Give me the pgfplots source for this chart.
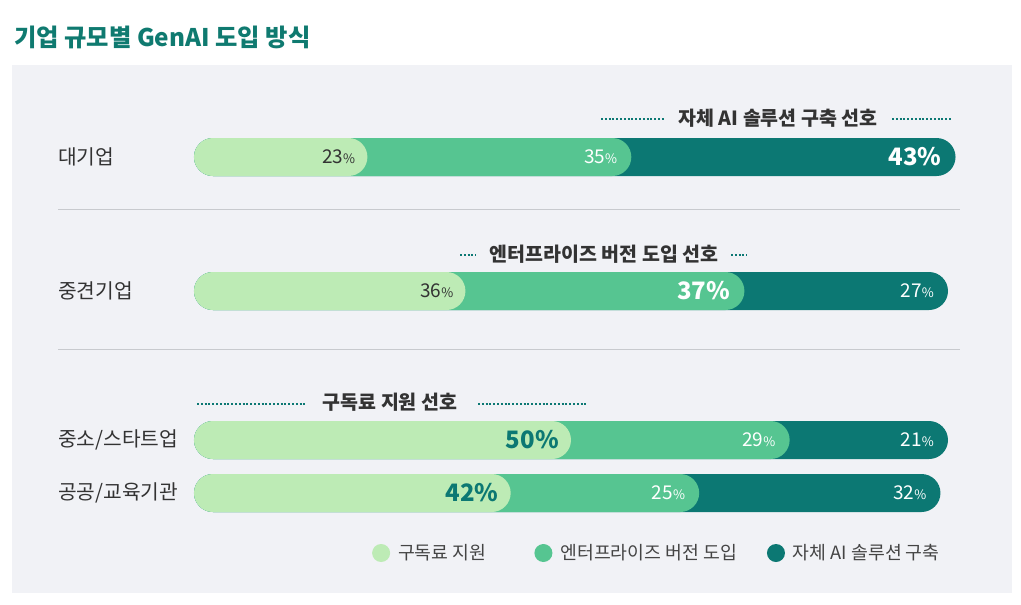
\documentclass[border=0pt]{standalone}
\usepackage{fontspec}
\setmainfont{Noto Sans CJK KR}
\usepackage{pgfplots}
\usepackage{pgfplotstable}
\pgfplotsset{compat=1.18}
\definecolor{cL}{HTML}{BDEBB5}
\definecolor{cM}{HTML}{56C591}
\definecolor{cD}{HTML}{0C7873}
\definecolor{ttl}{HTML}{0F7A70}
\definecolor{panel}{HTML}{F1F2F6}
\definecolor{txt}{HTML}{333333}
\definecolor{lgt}{HTML}{444444}
\definecolor{sepc}{HTML}{C8CACE}

\pgfplotstableread{
y a b c ba bb bc
157 23 35 43 0 0 1
291 36 37 27 0 1 0
440 50 29 21 1 0 0
493 42 25 32 1 0 0
}\data

\newcommand{\Lbl}[3]{%
  \ifdim#1pt>0.5pt
    \textcolor{#2}{\bfseries\fontsize{24}{24}\selectfont\pgfmathprintnumber{\pgfplotspointmeta}\%}%
  \else
    \textcolor{#3}{\fontsize{19}{19}\selectfont\pgfmathprintnumber{\pgfplotspointmeta}{\fontsize{13}{13}\selectfont\%}}%
  \fi}

\tikzset{dotl/.style={draw=cD, line width=2pt, dash pattern=on 2pt off 1.8pt}}

\begin{document}
\begin{tikzpicture}
\begin{scope}[x=1pt,y=-1pt]
  \fill[white] (0,0) rectangle (1021,605);
  \fill[panel] (12,65) rectangle (1012,593);
  \node[anchor=base west, inner sep=0pt, font=\bfseries\fontsize{24.3}{24.3}\selectfont, text=ttl] at (14,46) {기업 규모별 GenAI 도입 방식};
  \draw[sepc, line width=1pt] (58,209) -- (960,209);
  \draw[sepc, line width=1pt] (58,349) -- (960,349);
  % annotations
  \node[font=\bfseries\fontsize{19.5}{19.5}\selectfont, text=txt, inner sep=0pt] at (778,118) {자체 AI 솔루션 구축 선호};
  \draw[dotl] (601,119) -- (665,119);
  \draw[dotl] (892,119) -- (951,119);
  \node[font=\bfseries\fontsize{19.5}{19.5}\selectfont, text=txt, inner sep=0pt] at (604,254) {엔터프라이즈 버전 도입 선호};
  \draw[dotl] (460,255) -- (476,255);
  \draw[dotl] (731,255) -- (747,255);
  \node[font=\bfseries\fontsize{19.5}{19.5}\selectfont, text=txt, inner sep=0pt] at (390,402) {구독료 지원 선호};
  \draw[dotl] (197,404) -- (305,404);
  \draw[dotl] (478,404) -- (588,404);
\end{scope}
\begin{axis}[
  at={(0pt,-605pt)}, anchor=south west,
  scale only axis, width=1021pt, height=605pt,
  xmin=-25.729, xmax=109.682,
  ymin=0, ymax=605, y dir=reverse,
  axis line style={draw=none}, tick style={draw=none},
  major tick length=0pt,
  xtick=\empty,
  ytick={157,291,440,493},
  yticklabels={대기업,중견기업,중소/스타트업,공공/교육기관},
  yticklabel style={anchor=west, xshift=58pt, inner sep=0pt, font=\fontsize{20.3}{20.3}\selectfont, text=txt},
  /pgf/number format/assume math mode=true,
  clip=false,
  reverse legend,
  legend columns=3,
  legend style={at={(axis cs:23.6,553)}, anchor=west, draw=none, fill=none,
    font=\fontsize{18.3}{18.3}\selectfont, text=lgt, inner sep=0pt,
    /tikz/column 1/.style={column sep=6pt},
    /tikz/column 2/.style={column sep=46pt},
    /tikz/column 3/.style={column sep=6pt},
    /tikz/column 4/.style={column sep=28pt},
    /tikz/column 5/.style={column sep=6pt}},
]
\addplot[xbar, bar width=38pt, bar shift=0pt, draw=none, fill=cD, rounded corners=19pt,
  point meta=explicit, visualization depends on={\thisrow{bc}\as\isbig},
  nodes near coords={\Lbl{\isbig}{white}{white}},
  every node near coord/.style={anchor=east, xshift=-14pt, inner sep=0pt},
  legend image code/.code={\fill[cD] (0pt,0pt) circle (9pt);}]
  table[x expr=\thisrow{a}+\thisrow{b}+\thisrow{c}, y=y, meta=c]{\data};
\addlegendentry{자체 AI 솔루션 구축}
\addplot[xbar, bar width=38pt, bar shift=0pt, draw=none, fill=cM, rounded corners=19pt,
  point meta=explicit, visualization depends on={\thisrow{bb}\as\isbig},
  nodes near coords={\Lbl{\isbig}{white}{white}},
  every node near coord/.style={anchor=east, xshift=-14pt, inner sep=0pt},
  legend image code/.code={\fill[cM] (0pt,0pt) circle (9pt);}]
  table[x expr=\thisrow{a}+\thisrow{b}, y=y, meta=b]{\data};
\addlegendentry{엔터프라이즈 버전 도입}
\addplot[xbar, bar width=38pt, bar shift=0pt, draw=none, fill=cL, rounded corners=19pt,
  point meta=explicit, visualization depends on={\thisrow{ba}\as\isbig},
  nodes near coords={\Lbl{\isbig}{cD}{txt}},
  every node near coord/.style={anchor=east, xshift=-12pt, inner sep=0pt},
  legend image code/.code={\fill[cL] (0pt,0pt) circle (9pt);}]
  table[x=a, y=y, meta=a]{\data};
\addlegendentry{구독료 지원}
\end{axis}
\pgfresetboundingbox
\path (0pt,0pt) rectangle (1021pt,-605pt);
\end{tikzpicture}
\end{document}
